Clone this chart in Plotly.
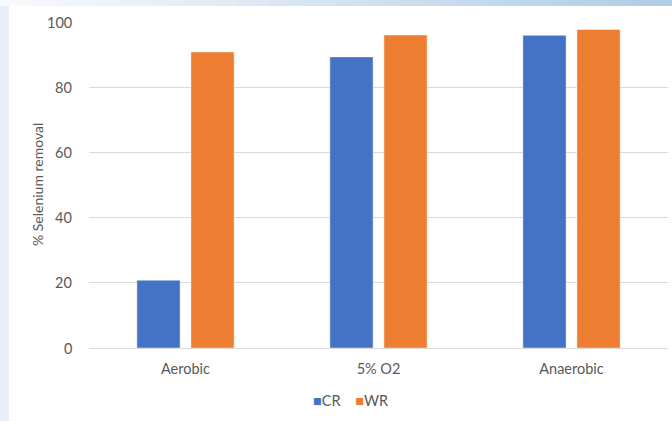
import plotly.graph_objects as go

# Selenium removal by oxygen condition
conditions = ["Aerobic", "5% O2", "Anaerobic"]
series_names = ["CR", "WR"]
cr_removal = [20.8, 89.3, 95.9]
wr_removal = [90.8, 96.0, 97.7]
y_ticks = [0, 20, 40, 60, 80, 100]
y_title = "% Selenium removal"

BLUE = "#4472C4"
ORANGE = "#ED7D31"
TEXT = "#595959"
GRID = "#D9D9D9"
FONT = "Lato"
FS = 14.5

L, R, T, B = 89, 4, 22, 73
W, H = 672, 421
PW, PH = W - L - R, H - T - B


def px_x(p):
    """Pixel column -> paper x."""
    return (p - L) / PW


def px_y(p):
    """Pixel row -> paper y."""
    return (H - B - p) / PH


fig = go.Figure()
fig.add_trace(go.Bar(
    name=series_names[0], x=conditions, y=cr_removal,
    marker=dict(color=BLUE, line=dict(color="rgba(255,255,255,0.45)", width=1)),
))
fig.add_trace(go.Bar(
    name=series_names[1], x=conditions, y=wr_removal,
    marker=dict(color=ORANGE, line=dict(color="rgba(255,255,255,0.45)", width=1)),
))

# slide-style decorative strips: top gradient band and left pale band
shapes = []
n = 40
for i in range(n):
    t = i / (n - 1)
    r = int(248 + (176 - 248) * t)
    g = int(250 + (205 - 250) * t)
    b = int(253 + (230 - 253) * t)
    shapes.append(dict(
        type="rect", xref="paper", yref="paper",
        x0=px_x(i * W / n), x1=px_x((i + 1) * W / n + 1),
        y0=px_y(6), y1=px_y(-1),
        fillcolor=f"rgb({r},{g},{b})", line=dict(width=0), layer="below",
    ))
shapes.append(dict(
    type="rect", xref="paper", yref="paper",
    x0=px_x(0), x1=px_x(9), y0=px_y(H + 1), y1=px_y(6),
    fillcolor="#E8EFF8", line=dict(width=0), layer="below",
))

annotations = []
# y tick labels, placed on the y scale, right-aligned a little left of the grid
for v in y_ticks:
    annotations.append(dict(
        text=str(v), xref="paper", yref="y", x=px_x(74), y=v,
        xanchor="right", yanchor="middle", showarrow=False,
        font=dict(family=FONT, size=FS, color=TEXT),
    ))
# rotated y axis title
annotations.append(dict(
    text=y_title, xref="paper", yref="paper", x=px_x(37), y=px_y(185),
    xanchor="center", yanchor="middle", textangle=-90, showarrow=False,
    font=dict(family=FONT, size=14, color=TEXT),
))
# compact legend row beneath the categories
legend_text = (
    f"<span style='color:{BLUE}'>■</span>{series_names[0]}"
    f"\u2003 <span style='color:{ORANGE}'>■</span>{series_names[1]}"
)
annotations.append(dict(
    text=legend_text, xref="paper", yref="paper",
    x=px_x(350), y=px_y(400), xanchor="center", yanchor="middle",
    showarrow=False, font=dict(family=FONT, size=FS, color=TEXT),
))

fig.update_layout(
    width=W, height=H,
    margin=dict(l=L, r=R, t=T, b=B),
    paper_bgcolor="white", plot_bgcolor="white",
    font=dict(family=FONT, size=FS, color=TEXT),
    barmode="group", bargap=0.44, bargroupgap=0.2,
    showlegend=False,
    xaxis=dict(
        showgrid=False, showline=False,
        ticks="outside", ticklen=8, tickcolor="rgba(0,0,0,0)",
        tickfont=dict(family=FONT, size=FS, color=TEXT),
    ),
    yaxis=dict(
        range=[0, 100], tickvals=y_ticks,
        showgrid=True, gridcolor=GRID, gridwidth=1,
        zeroline=True, zerolinecolor=GRID, zerolinewidth=1,
        showline=False, ticks="", showticklabels=False,
    ),
    shapes=shapes,
    annotations=annotations,
)

fig.write_html("out.html")
